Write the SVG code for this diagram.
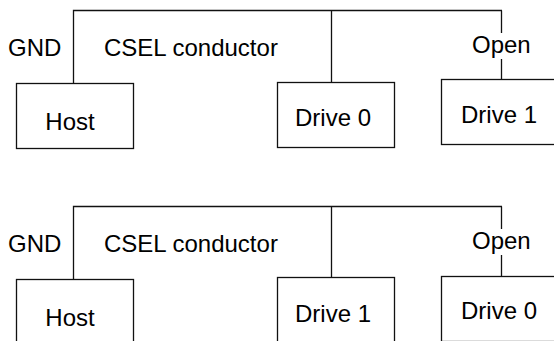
<svg xmlns="http://www.w3.org/2000/svg" width="554" height="341" viewBox="0 0 554 341">
<style>
.box{fill:#fff;stroke:#111;stroke-width:1.3}
.wire{fill:none;stroke:#111;stroke-width:1.3}
text{font-family:"Liberation Sans",Arial,sans-serif;font-size:24px;fill:#000}
.c{text-anchor:middle}
</style>
<rect width="554" height="341" fill="#fff"/>
<g id="connectors">
<path class="wire" d="M73.5,83 V10.5 H502 M331.5,10.5 V82 M501.5,10.5 V33 M501.5,59 V79"/>
<path class="wire" d="M73.5,279 V206.5 H502 M331.5,206.5 V277 M501.5,206.5 V229 M501.5,255 V276"/>
</g>
<g id="labels-top">
<text x="8" y="56">GND</text>
<text x="104" y="56">CSEL conductor</text>
<text x="472" y="53">Open</text>
</g>
<g id="host-top"><rect class="box" x="16.5" y="83.5" width="117" height="65"/><text class="c" x="70" y="130">Host</text></g>
<g id="drive0-top"><rect class="box" x="277.5" y="82.5" width="117" height="65"/><text class="c" x="333" y="126">Drive 0</text></g>
<g id="drive1-top"><rect class="box" x="441.5" y="79.5" width="117" height="65"/><text class="c" x="499" y="123">Drive 1</text></g>
<g id="labels-bottom">
<text x="8" y="252">GND</text>
<text x="104" y="252">CSEL conductor</text>
<text x="472" y="249">Open</text>
</g>
<g id="host-bottom"><rect class="box" x="16.5" y="279.5" width="117" height="65"/><text class="c" x="70" y="326">Host</text></g>
<g id="drive1-bottom"><rect class="box" x="277.5" y="277.5" width="117" height="65"/><text class="c" x="333" y="322">Drive 1</text></g>
<g id="drive0-bottom"><rect class="box" x="441.5" y="276.5" width="117" height="65"/><text class="c" x="499" y="319">Drive 0</text></g>
</svg>
